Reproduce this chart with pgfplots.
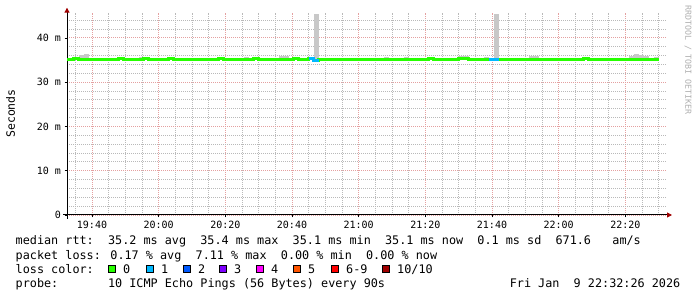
\documentclass[border=0pt]{standalone}
\usepackage{pgfplots}
\pgfplotsset{compat=1.18}
\usepackage{pgfplotstable}
\usetikzlibrary{arrows.meta}
\usepackage{fontspec}
\setmainfont{DejaVu Sans Mono}
\setmonofont{DejaVu Sans Mono}
\definecolor{c0}{HTML}{26FF00}
\definecolor{c1}{HTML}{00B8FF}
\definecolor{c2}{HTML}{0059FF}
\definecolor{c3}{HTML}{7E00FF}
\definecolor{c4}{HTML}{FF00FF}
\definecolor{c5}{HTML}{FF5500}
\definecolor{c6}{HTML}{FF0000}
\definecolor{c10}{HTML}{A00000}
\definecolor{smoke}{HTML}{C8C8C8}
\definecolor{gridred}{RGB}{228,160,160}
\definecolor{gridgray}{RGB}{185,185,185}
\definecolor{arrowred}{HTML}{A00000}
\definecolor{wmark}{RGB}{175,175,175}
\newcommand\legfont{\fontsize{11.8}{14}\selectfont}
\newcommand\swatch[1]{{\setlength\fboxsep{0pt}\setlength\fboxrule{1pt}\raisebox{1pt}{\fcolorbox{black}{#1}{\makebox[6pt]{\rule{0pt}{6pt}}}}}}
\pgfplotstableread{
t med up lo
31.5 35.2 35.5 35.0
33 35.2 35.5 35.0
34.5 35.3 35.6 35.0
36 35.2 36.2 35.0
37.5 35.2 36.3 35.0
39 35.1 35.5 34.9
40.5 35.2 35.5 35.0
42 35.2 35.4 35.0
43.5 35.1 35.4 34.8
45 35.1 35.4 34.8
46.5 35.2 35.5 35.0
48 35.3 35.6 35.0
49.5 35.2 35.5 35.0
51 35.1 35.4 34.9
52.5 35.2 35.5 35.0
54 35.2 35.6 35.0
55.5 35.3 35.5 35.0
57 35.2 35.5 34.9
58.5 35.1 35.4 34.9
60 35.2 35.5 35.0
61.5 35.2 35.5 35.0
63 35.3 35.6 35.0
64.5 35.2 35.5 35.0
66 35.2 35.5 34.9
67.5 35.1 35.4 34.9
69 35.2 35.5 35.0
70.5 35.2 35.5 35.0
72 35.2 35.5 35.0
73.5 35.1 35.4 34.9
75 35.2 35.5 35.0
76.5 35.2 35.5 35.0
78 35.3 35.6 35.0
79.5 35.2 35.5 35.0
81 35.2 35.5 35.0
82.5 35.1 35.4 34.9
84 35.2 35.5 35.0
85.5 35.2 35.6 35.0
87 35.2 35.5 35.0
88.5 35.3 35.6 35.0
90 35.2 35.5 35.0
91.5 35.2 35.5 35.0
93 35.1 35.4 34.9
94.5 35.2 35.5 35.0
96 35.2 35.9 35.0
97.5 35.2 36.0 35.0
99 35.1 35.4 34.9
100.5 35.3 35.8 35.0
102 35.2 35.5 35.0
103.5 35.2 35.5 35.0
105 35.4 35.6 35.0
106.5 35.0 45.4 34.9
108 35.2 35.5 35.0
109.5 35.2 35.5 35.0
111 35.2 35.5 34.7
112.5 35.2 35.5 34.7
114 35.2 35.5 35.0
115.5 35.2 35.5 35.0
117 35.1 35.4 34.9
118.5 35.2 35.5 35.0
120 35.2 35.5 35.0
121.5 35.2 35.5 35.0
123 35.1 35.4 34.9
124.5 35.2 35.5 35.0
126 35.2 35.5 35.0
127.5 35.2 35.8 35.0
129 35.2 35.5 35.0
130.5 35.1 35.4 34.9
132 35.2 35.5 35.0
133.5 35.2 35.7 35.0
135 35.1 35.4 34.9
136.5 35.2 35.5 35.0
138 35.2 35.5 35.0
139.5 35.2 35.5 35.0
141 35.3 35.6 35.0
142.5 35.2 35.5 35.0
144 35.2 35.5 35.0
145.5 35.1 35.4 34.9
147 35.2 35.5 35.0
148.5 35.2 35.5 35.0
150 35.4 35.9 35.0
151.5 35.3 35.9 35.0
153 35.2 35.5 35.0
154.5 35.1 35.4 34.9
156 35.1 35.4 34.9
157.5 35.2 35.7 35.0
159 35.2 35.5 34.9
160.5 35.2 45.4 34.9
162 35.2 35.5 35.0
163.5 35.2 35.5 35.0
165 35.1 35.4 34.9
166.5 35.2 35.5 35.0
168 35.2 35.5 35.0
169.5 35.2 35.5 35.0
171 35.2 35.9 35.0
172.5 35.2 35.9 35.0
174 35.1 35.4 34.9
175.5 35.2 35.5 35.0
177 35.2 35.5 35.0
178.5 35.1 35.4 34.9
180 35.2 35.5 35.0
181.5 35.2 35.5 35.0
183 35.2 35.5 34.8
184.5 35.2 35.5 34.8
186 35.2 35.5 35.0
187.5 35.3 35.6 35.0
189 35.2 35.5 35.0
190.5 35.2 35.5 35.0
192 35.2 35.5 35.0
193.5 35.1 35.4 34.9
195 35.2 35.5 35.0
196.5 35.2 35.5 35.0
198 35.2 35.5 35.0
199.5 35.2 35.5 35.0
201 35.2 36.0 35.0
202.5 35.2 36.3 35.0
204 35.2 36.1 35.0
205.5 35.2 36.0 35.0
207 35.2 35.5 35.0
208.5 35.1 35.8 34.9
210 35.1 35.1 35.1
}\rtt
\begin{document}
\begin{tikzpicture}
\path[use as bounding box] (0pt,0pt) rectangle (697pt,297pt);
\begin{axis}[
  at={(67pt,82pt)}, anchor=south west,
  scale only axis, width=600pt, height=202.3pt,
  xmin=32.5, xmax=212.5, ymin=0, ymax=45.7,
  axis lines=left,
  axis line style={black, line width=1pt, -{Triangle[length=5pt,width=5pt,color=arrowred]}, shorten >=-5pt, shorten <=-4pt},
  xtick={40,60,80,100,120,140,160,180,200},
  xticklabels={19:40,20:00,20:20,20:40,21:00,21:20,21:40,22:00,22:20},
  ytick={0,10,20,30,40},
  yticklabels={0,10 m,20 m,30 m,40 m},
  minor xtick={35,45,50,55,65,70,75,85,90,95,105,110,115,125,130,135,145,150,155,165,170,175,185,190,195,205,210},
  minor ytick={2,4,6,8,12,14,16,18,22,24,26,28,32,34,36,38,42,44},
  grid=both,
  major grid style={draw=gridred, dash pattern=on 1pt off 1pt, line width=0.9pt},
  minor grid style={draw=gridgray, dash pattern=on 1pt off 1pt, line width=0.9pt},
  tick align=outside, major tick length=2.5pt, minor tick length=0pt,
  tick style={black, line width=0.8pt},
  tick label style={font=\fontsize{10}{12}\selectfont, black},
  clip=true,
]
\addplot[draw=none, mark=none, restrict x to domain=30:209.9,
  error bars/.cd, y dir=both, y explicit, error mark=none,
  error bar style={draw=smoke, line width=5.1pt}]
  table[x expr=\thisrow{t}+0.75, y=med,
        y error plus expr=\thisrow{up}-\thisrow{med},
        y error minus expr=\thisrow{med}-\thisrow{lo}] {\rtt};
\addplot[const plot, c0, line width=3pt, mark=none] table[x=t, y=med] {\rtt};
\addplot[const plot, c1, line width=3pt, mark=none] coordinates {(105,35.4) (106.5,35.0) (108,35.0)};
\addplot[const plot, c1, line width=3pt, mark=none] coordinates {(159,35.2) (160.5,35.2) (162,35.2)};
\end{axis}
\node[rotate=90, inner sep=0pt, font=\fontsize{11.5}{13}\selectfont] at (10.5pt,183.5pt) {Seconds};
\node[rotate=-90, inner sep=0pt, font=\fontsize{8.3}{10}\selectfont, text=wmark] at (688pt,237pt) {RRDTOOL / TOBI OETIKER};
\node[anchor=base west, inner sep=0pt, font=\legfont] at (15.5pt,52.7pt) {median rtt:~~35.2 ms avg~~35.4 ms max~~35.1 ms min~~35.1 ms now~~0.1 ms sd~~671.6~~~am/s};
\node[anchor=base west, inner sep=0pt, font=\legfont] at (15.5pt,37.7pt) {packet loss: 0.17 \% avg~~7.11 \% max~~0.00 \% min~~0.00 \% now};
\node[anchor=base west, inner sep=0pt, font=\legfont] at (15.5pt,23.7pt) {loss color:};
\node[anchor=base west, inner sep=0pt, font=\legfont] at (108pt,23.7pt) {\swatch{c0}\hspace{7pt}0};
\node[anchor=base west, inner sep=0pt, font=\legfont] at (146pt,23.7pt) {\swatch{c1}\hspace{7pt}1};
\node[anchor=base west, inner sep=0pt, font=\legfont] at (183pt,23.7pt) {\swatch{c2}\hspace{7pt}2};
\node[anchor=base west, inner sep=0pt, font=\legfont] at (219pt,23.7pt) {\swatch{c3}\hspace{7pt}3};
\node[anchor=base west, inner sep=0pt, font=\legfont] at (256pt,23.7pt) {\swatch{c4}\hspace{7pt}4};
\node[anchor=base west, inner sep=0pt, font=\legfont] at (293pt,23.7pt) {\swatch{c5}\hspace{7pt}5};
\node[anchor=base west, inner sep=0pt, font=\legfont] at (331pt,23.7pt) {\swatch{c6}\hspace{7pt}6-9};
\node[anchor=base west, inner sep=0pt, font=\legfont] at (382pt,23.7pt) {\swatch{c10}\hspace{7pt}10/10};
\node[anchor=base west, inner sep=0pt, font=\legfont] at (15.5pt,9.7pt) {probe:~~~~~~~10 ICMP Echo Pings (56 Bytes) every 90s};
\node[anchor=base east, inner sep=0pt, font=\legfont] at (680.5pt,9.7pt) {Fri Jan~~9 22:32:26 2026};
\end{tikzpicture}
\end{document}
